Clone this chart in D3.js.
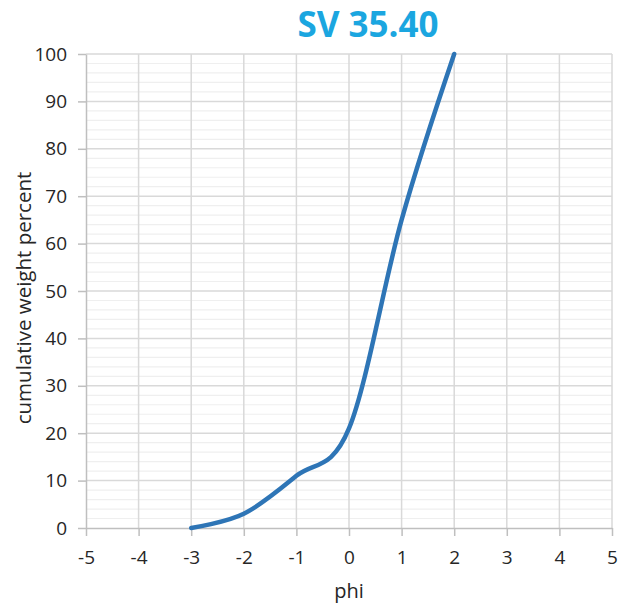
<!DOCTYPE html>
<html>
<head>
<meta charset="utf-8">
<script src="https://cdn.jsdelivr.net/npm/d3@7"></script>
<style>
  body { margin: 0; background: #fff; }
  text { font-family: "Open Sans", "Noto Sans", sans-serif; }
</style>
</head>
<body>
<div id="chart"></div>
<script>
// data
var phi = [-3, -2, -1, 0, 1, 2];
var cumPercent = [0, 3, 11, 21, 65, 100];
var xTicks = [-5, -4, -3, -2, -1, 0, 1, 2, 3, 4, 5];
var yTicks = [0, 10, 20, 30, 40, 50, 60, 70, 80, 90, 100];
var yMinor = d3.range(0, 101, 2);

var W = 629, H = 612;
var margin = {top: 54, right: 17, bottom: 84, left: 86},
    width = W - margin.left - margin.right,
    height = H - margin.top - margin.bottom;

var svg = d3.select("#chart").append("svg")
    .attr("width", W)
    .attr("height", H);

var g = svg.append("g")
    .attr("transform", "translate(" + margin.left + "," + margin.top + ")");

var x = d3.scaleLinear().domain([-5, 5]).range([0, width]);
var y = d3.scaleLinear().domain([0, 100]).range([height, 0]);

// minor horizontal grid
g.selectAll("line.minor")
    .data(yMinor.filter(function(d){ return d % 10 != 0; }))
  .enter().append("line")
    .attr("class", "minor")
    .attr("x1", 0).attr("x2", width)
    .attr("y1", function(d){ return y(d); })
    .attr("y2", function(d){ return y(d); })
    .attr("stroke", "#efefef")
    .attr("stroke-width", 1.2);

// major grid
g.selectAll("line.hmajor")
    .data(yTicks.slice(1))
  .enter().append("line")
    .attr("class", "hmajor")
    .attr("x1", 0).attr("x2", width)
    .attr("y1", function(d){ return y(d); })
    .attr("y2", function(d){ return y(d); })
    .attr("stroke", "#d9d9d9")
    .attr("stroke-width", 1.5);

g.selectAll("line.vmajor")
    .data(xTicks.slice(1))
  .enter().append("line")
    .attr("class", "vmajor")
    .attr("y1", 0).attr("y2", height)
    .attr("x1", function(d){ return x(d); })
    .attr("x2", function(d){ return x(d); })
    .attr("stroke", "#d9d9d9")
    .attr("stroke-width", 1.5);

// axes
var xAxis = g.append("g")
    .attr("transform", "translate(0," + height + ")")
    .call(d3.axisBottom(x).tickValues(xTicks).tickSizeInner(8).tickSizeOuter(0).tickPadding(15)
      .tickFormat(function(d){ return d < 0 ? "-" + Math.abs(d) : d; }));

var yAxis = g.append("g")
    .call(d3.axisLeft(y).tickValues(yTicks).tickSizeInner(8).tickSizeOuter(0).tickPadding(11));

[xAxis, yAxis].forEach(function(a){
  a.select(".domain").attr("stroke", "#bfbfbf").attr("stroke-width", 1.5);
  a.selectAll(".tick line").attr("stroke", "#bfbfbf").attr("stroke-width", 1.5);
  a.selectAll(".tick text")
    .attr("fill", "#262626")
    .style("font-size", "19px")
    .style("font-family", "'Open Sans', sans-serif");
});

// curve
var line = d3.line()
    .x(function(d){ return x(d[0]); })
    .y(function(d){ return y(d[1]); })
    .curve(d3.curveCatmullRom.alpha(0));

g.append("path")
    .datum(d3.zip(phi, cumPercent))
    .attr("d", line)
    .attr("fill", "none")
    .attr("stroke", "#2e75b6")
    .attr("stroke-width", 4.5)
    .attr("stroke-linecap", "round");

// titles
svg.append("text")
    .attr("x", 368)
    .attr("y", 37)
    .attr("text-anchor", "middle")
    .attr("fill", "#1ba6e0")
    .style("font-size", "35px")
    .style("font-weight", "bold")
    .text("SV 35.40");

svg.append("text")
    .attr("x", 349)
    .attr("y", 598)
    .attr("text-anchor", "middle")
    .attr("fill", "#262626")
    .style("font-size", "20px")
    .text("phi");

svg.append("text")
    .attr("transform", "translate(31," + 298 + ") rotate(-90)")
    .attr("text-anchor", "middle")
    .attr("fill", "#262626")
    .style("font-size", "20.5px")
    .text("cumulative weight percent");
</script>
</body>
</html>
